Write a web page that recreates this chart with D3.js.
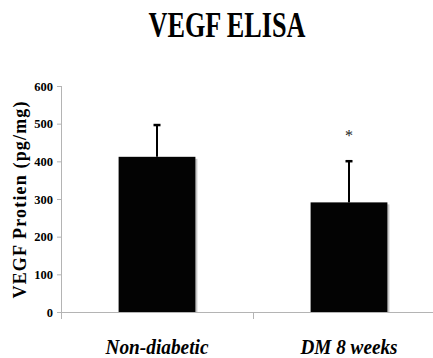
<!DOCTYPE html>
<html>
<head>
<meta charset="utf-8">
<script src="https://cdn.jsdelivr.net/npm/d3@7"></script>
<style>
  body { margin: 0; background: #fff; }
  svg { display: block; }
  text { font-family: "Liberation Serif", "DejaVu Serif", serif; }
</style>
</head>
<body>
<svg id="chart" width="433" height="358"></svg>
<script>
// data
const groups = ['Non-diabetic', 'DM 8 weeks'];
const means = [412, 291];
const sds = [87, 112];
const signif = ['', '*'];
const yTicks = [0, 100, 200, 300, 400, 500, 600];

const W = 433, H = 358;
const svg = d3.select('#chart');

const x = d3.scaleBand().domain(groups).range([61, 445]).paddingInner(0.6).paddingOuter(0.3);
const y = d3.scaleLinear().domain([0, 600]).range([312, 86]);

const axisCol = '#b4b4b4';

// title, a bit squeezed like the original
svg.append('text')
  .attr('x', 227).attr('y', 37)
  .attr('text-anchor', 'middle')
  .attr('font-size', 35).attr('font-weight', 'bold')
  .attr('textLength', 157).attr('lengthAdjust', 'spacingAndGlyphs')
  .text('VEGF ELISA');

// y axis
const yAxis = svg.append('g')
  .attr('transform', 'translate(61,0)')
  .call(d3.axisLeft(y).tickValues(yTicks).tickSize(4).tickPadding(4).tickFormat(d3.format('d')));
yAxis.select('.domain').remove();
yAxis.selectAll('.tick line').attr('stroke', axisCol);
yAxis.selectAll('.tick text')
  .attr('font-size', 12.5).attr('font-weight', 'bold').attr('fill', '#000');
svg.append('line')
  .attr('x1', 61.5).attr('x2', 61.5).attr('y1', y(600)).attr('y2', 319)
  .attr('stroke', axisCol);

// x axis line + category dividers
svg.append('line')
  .attr('x1', 61).attr('x2', W).attr('y1', 312.5).attr('y2', 312.5)
  .attr('stroke', axisCol);
svg.selectAll('.divider')
  .data(groups.slice(1))
  .join('line')
  .attr('class', 'divider')
  .attr('x1', d => Math.round(x(d) - x.step() * 0.3) + 0.5)
  .attr('x2', d => Math.round(x(d) - x.step() * 0.3) + 0.5)
  .attr('y1', 312).attr('y2', 319)
  .attr('stroke', axisCol);

// bar shadow
svg.selectAll('.shadow')
  .data(groups)
  .join('rect')
  .attr('class', 'shadow')
  .attr('x', d => x(d) + 2)
  .attr('y', (d, i) => y(means[i]) + 2)
  .attr('width', x.bandwidth())
  .attr('height', (d, i) => y(0) - y(means[i]) - 2)
  .attr('fill', '#c8c8c8');

// bars
svg.selectAll('.bar')
  .data(groups)
  .join('rect')
  .attr('class', 'bar')
  .attr('x', d => x(d))
  .attr('y', (d, i) => y(means[i]))
  .attr('width', x.bandwidth())
  .attr('height', (d, i) => y(0) - y(means[i]))
  .attr('fill', '#030303');

// upper error bars
const cx = d => x(d) + x.bandwidth() / 2;
svg.selectAll('.err')
  .data(groups)
  .join('line')
  .attr('class', 'err')
  .attr('x1', cx).attr('x2', cx)
  .attr('y1', (d, i) => y(means[i]))
  .attr('y2', (d, i) => y(means[i] + sds[i]))
  .attr('stroke', '#000').attr('stroke-width', 2);
svg.selectAll('.cap')
  .data(groups)
  .join('line')
  .attr('class', 'cap')
  .attr('x1', d => cx(d) - 3.5).attr('x2', d => cx(d) + 3.5)
  .attr('y1', (d, i) => y(means[i] + sds[i]) + 1)
  .attr('y2', (d, i) => y(means[i] + sds[i]) + 1)
  .attr('stroke', '#000').attr('stroke-width', 2.5);

// significance mark
svg.selectAll('.sig')
  .data(groups)
  .join('text')
  .attr('class', 'sig')
  .attr('x', cx)
  .attr('y', (d, i) => y(means[i] + sds[i]) - 19)
  .attr('text-anchor', 'middle')
  .attr('font-size', 16).attr('fill', '#222')
  .text((d, i) => signif[i]);

// category labels
const labLen = [103, 97];
svg.selectAll('.cat')
  .data(groups)
  .join('text')
  .attr('class', 'cat')
  .attr('x', cx)
  .attr('y', 354)
  .attr('text-anchor', 'middle')
  .attr('font-size', 20).attr('font-weight', 'bold').attr('font-style', 'italic')
  .attr('textLength', (d, i) => labLen[i]).attr('lengthAdjust', 'spacingAndGlyphs')
  .text(d => d);

// y label
svg.append('text')
  .attr('transform', 'translate(26,200) rotate(-90)')
  .attr('text-anchor', 'middle')
  .attr('font-size', 18).attr('font-weight', 'bold')
  .attr('textLength', 197).attr('lengthAdjust', 'spacing')
  .text('VEGF Protien (pg/mg)');
</script>
</body>
</html>
